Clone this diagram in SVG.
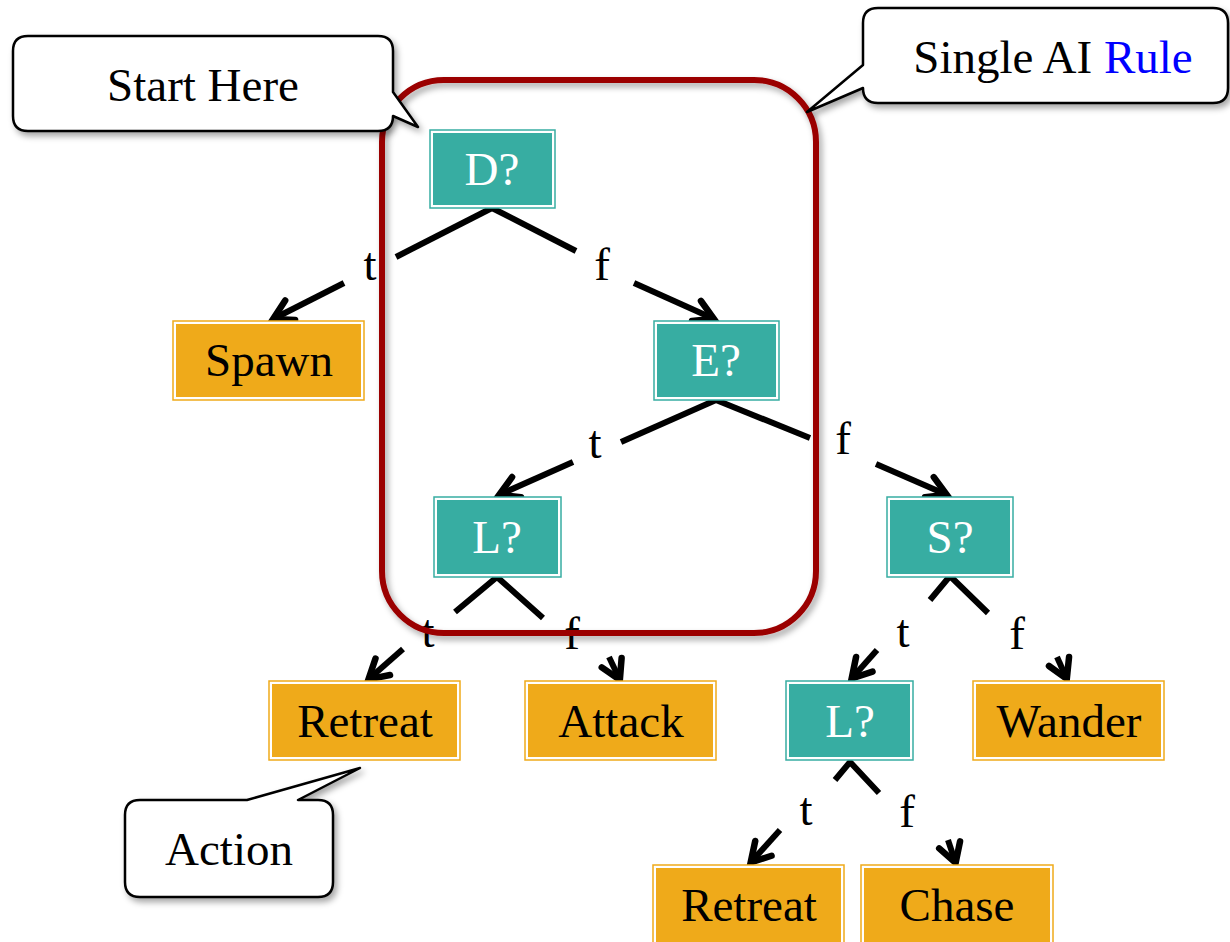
<svg xmlns="http://www.w3.org/2000/svg" width="1230" height="942" viewBox="0 0 1230 942">
<style>
.t{font-family:"Liberation Serif","Times New Roman",serif;font-size:47px;text-anchor:middle}
.dk{fill:#000}
.wt{fill:#fff}
.q .o{fill:#fff;stroke:#37ada2;stroke-width:1.5}
.q .i{fill:#37ada2}
.a .o{fill:#fff;stroke:#efaa1a;stroke-width:1.5}
.a .i{fill:#efaa1a}
.c{stroke:#000;stroke-width:6;fill:none}
.call{fill:#fff;stroke:#000;stroke-width:2.5;stroke-linejoin:round}
</style>
<defs>
<filter id="sh" x="-10%" y="-10%" width="130%" height="130%">
<feDropShadow dx="3" dy="4" stdDeviation="3" flood-color="#000" flood-opacity="0.35"/>
</filter>
<marker id="ar" markerUnits="userSpaceOnUse" markerWidth="40" markerHeight="40" viewBox="-30 -20 40 40" refX="-2" refY="0" orient="auto" overflow="visible">
<path d="M-19,-11 L0,0 L-19,11" fill="none" stroke="#000" stroke-width="6.5" stroke-linejoin="miter" stroke-linecap="round"/>
</marker>
</defs>
<rect width="1230" height="942" fill="#fff"/>

<g id="connectors">
<path class="c" d="M492,208 L396,257"/>
<path class="c" d="M344,283 L275,318" marker-end="url(#ar)"/>
<path class="c" d="M492,208 L576,251"/>
<path class="c" d="M634,283 L712,318" marker-end="url(#ar)"/>
<path class="c" d="M716,400 L621,442"/>
<path class="c" d="M573,462 L501,494" marker-end="url(#ar)"/>
<path class="c" d="M716,400 L810,438"/>
<path class="c" d="M876,464 L945,494" marker-end="url(#ar)"/>
<path class="c" d="M455,612 L497,577 L543,618"/>
<path class="c" d="M403,649 L370,678" marker-end="url(#ar)"/>
<path class="c" d="M609,657 L619,678" marker-end="url(#ar)"/>
<path class="c" d="M930,600 L950,576 L988,613"/>
<path class="c" d="M877,650 L853,677" marker-end="url(#ar)"/>
<path class="c" d="M1057,657 L1066,677" marker-end="url(#ar)"/>
<path class="c" d="M835,780 L850,762 L879,793"/>
<path class="c" d="M780,830 L752,861" marker-end="url(#ar)"/>
<path class="c" d="M948,840 L955,861" marker-end="url(#ar)"/>
</g>

<g id="edge-labels">
<text class="t dk" x="370" y="280">t</text>
<text class="t dk" x="602" y="280">f</text>
<text class="t dk" x="595" y="458">t</text>
<text class="t dk" x="843" y="454">f</text>
<text class="t dk" x="428" y="647">t</text>
<text class="t dk" x="572" y="649">f</text>
<text class="t dk" x="903" y="647">t</text>
<text class="t dk" x="1017" y="649">f</text>
<text class="t dk" x="806" y="825">t</text>
<text class="t dk" x="907" y="827">f</text>
</g>

<g id="node-D" class="q"><rect class="o" x="430" y="130" width="125" height="78"/><rect class="i" x="433" y="133" width="119" height="72"/><text class="t wt" x="492" y="185">D?</text></g>
<g id="node-Spawn" class="a"><rect class="o" x="173" y="321" width="191" height="79"/><rect class="i" x="176" y="324" width="185" height="73"/><text class="t dk" x="269" y="376">Spawn</text></g>
<g id="node-E" class="q"><rect class="o" x="654" y="321" width="125" height="79"/><rect class="i" x="657" y="324" width="119" height="73"/><text class="t wt" x="716" y="376">E?</text></g>
<g id="node-L1" class="q"><rect class="o" x="434" y="497" width="127" height="80"/><rect class="i" x="437" y="500" width="121" height="74"/><text class="t wt" x="497" y="553">L?</text></g>
<g id="node-S" class="q"><rect class="o" x="887" y="497" width="126" height="80"/><rect class="i" x="890" y="500" width="120" height="74"/><text class="t wt" x="950" y="553">S?</text></g>
<g id="node-Retreat1" class="a"><rect class="o" x="269" y="681" width="191" height="79"/><rect class="i" x="272" y="684" width="185" height="73"/><text class="t dk" x="365" y="737">Retreat</text></g>
<g id="node-Attack" class="a"><rect class="o" x="525" y="681" width="191" height="79"/><rect class="i" x="528" y="684" width="185" height="73"/><text class="t dk" x="621" y="737">Attack</text></g>
<g id="node-L2" class="q"><rect class="o" x="786" y="681" width="127" height="79"/><rect class="i" x="789" y="684" width="121" height="73"/><text class="t wt" x="850" y="737">L?</text></g>
<g id="node-Wander" class="a"><rect class="o" x="973" y="681" width="191" height="79"/><rect class="i" x="976" y="684" width="185" height="73"/><text class="t dk" x="1069" y="737">Wander</text></g>
<g id="node-Retreat2" class="a"><rect class="o" x="653" y="865" width="191" height="80"/><rect class="i" x="656" y="868" width="185" height="80"/><text class="t dk" x="749" y="921">Retreat</text></g>
<g id="node-Chase" class="a"><rect class="o" x="861" y="865" width="192" height="80"/><rect class="i" x="864" y="868" width="186" height="80"/><text class="t dk" x="957" y="921">Chase</text></g>

<g id="rule-box">
<rect x="382" y="80" width="434" height="553" rx="62" ry="62" fill="none" stroke="#9b0000" stroke-width="6" filter="url(#sh)"/>
</g>

<g id="callout-start">
<path class="call" filter="url(#sh)" d="M28,36 H378 Q393,36 393,51 V92 L418,127 L393,116 Q393,131 378,131 H28 Q13,131 13,116 V51 Q13,36 28,36 Z"/>
<text class="t dk" x="203" y="101">Start Here</text>
</g>
<g id="callout-rule">
<path class="call" filter="url(#sh)" d="M878,8 H1213 Q1228,8 1228,23 V88 Q1228,103 1213,103 H878 Q863,103 863,88 L807,112 L863,65 V23 Q863,8 878,8 Z"/>
<text class="t dk" x="1053" y="73">Single AI <tspan fill="#0000ff">Rule</tspan></text>
</g>
<g id="callout-action">
<path class="call" filter="url(#sh)" d="M140,800 H247 L360,768 L298,800 H318 Q333,800 333,815 V882 Q333,897 318,897 H140 Q125,897 125,882 V815 Q125,800 140,800 Z"/>
<text class="t dk" x="229" y="865">Action</text>
</g>
</svg>
